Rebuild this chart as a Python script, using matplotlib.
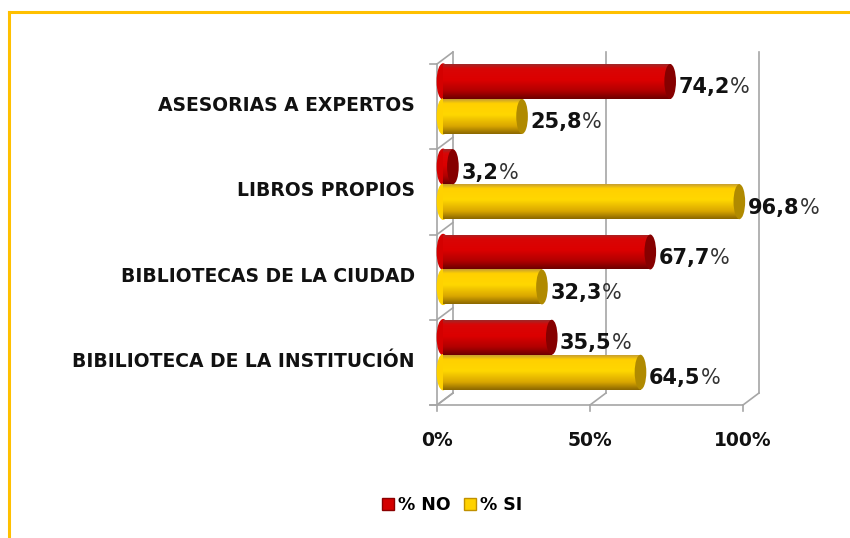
import matplotlib
matplotlib.use('Agg')
import matplotlib.pyplot as plt
import numpy as np
from matplotlib.patches import Rectangle, Ellipse, Patch
from matplotlib.lines import Line2D
from matplotlib.colors import LinearSegmentedColormap
from matplotlib.transforms import ScaledTranslation

# ---- data ----
categories = ['BIBILIOTECA DE LA INSTITUCIÓN', 'BIBLIOTECAS DE LA CIUDAD',
              'LIBROS PROPIOS', 'ASESORIAS A EXPERTOS']
no_values = [35.5, 67.7, 3.2, 74.2]
si_values = [64.5, 32.3, 96.8, 25.8]
series_names = ['% NO', '% SI']
x_ticks = [0, 50, 100]
x_tick_labels = ['0%', '50%', '100%']

# ---- style ----
RED_MAIN = '#D40000'
YEL_MAIN = '#FFD200'
cmap_red = LinearSegmentedColormap.from_list('r', [(0, '#6E0000'), (0.22, '#B00000'),
                                                   (0.55, '#DC0000'), (0.88, '#D80606'), (1, '#A02828')])
cmap_yel = LinearSegmentedColormap.from_list('y', [(0, '#8C6800'), (0.22, '#D9A600'),
                                                   (0.55, '#FFD700'), (0.88, '#FFD000'), (1, '#C9A030')])
CAP_RED = '#860000'
CAP_YEL = '#B08A00'
WALL = '#A6A6A6'
BX, BY = 5.2, 0.14          # depth offset of back wall (data units)
DX, DY = 2.0, 0.09          # depth offset of bars
BAR_H = 0.41
CAP_W = 3.8

fig = plt.figure(figsize=(8.5, 5.38), dpi=100)
fig.patch.set_facecolor('white')
ax = fig.add_axes([437/850, 1-405/538, 306/850, 341/538])
ax.set_xlim(0, 100)
ax.set_ylim(-0.5, 3.5)
for s in ax.spines.values():
    s.set_visible(False)
ax.set_facecolor('none')

ypos = np.arange(len(categories))

# walls / grid
def wl(xs, ys):
    ax.add_line(Line2D(xs, ys, color=WALL, lw=1.2, clip_on=False, zorder=1))

for xt in x_ticks:
    wl([xt + BX, xt + BX], [-0.5 + BY, 3.5 + BY])
    wl([xt, xt + BX], [-0.5, -0.5 + BY])
    wl([xt, xt], [-0.5, -0.57])
wl([-2.3, 100], [-0.5, -0.5])
wl([0, 0], [-0.5, 3.5])
for b in np.arange(-0.5, 3.6, 1.0):
    wl([-2.3, 0], [b, b])
    wl([0, BX], [b, b + BY])

grad = np.linspace(0, 1, 64).reshape(-1, 1)

def cyl(y, val, cmap, cap, mid):
    x0 = DX
    x1 = DX + val
    yb = y - BAR_H / 2
    ax.add_patch(Ellipse((x0, y), CAP_W, BAR_H, color=mid, zorder=3, clip_on=False))
    rect = Rectangle((x0, yb), val, BAR_H, facecolor='none', edgecolor='none')
    ax.add_patch(rect)
    im = ax.imshow(grad, cmap=cmap, extent=(x0, x1, yb, yb + BAR_H), origin='lower',
                   aspect='auto', zorder=4, interpolation='bilinear')
    im.set_clip_path(rect)
    ax.add_patch(Ellipse((x1, y), CAP_W, BAR_H, facecolor=cap, edgecolor='none',
                         zorder=5, clip_on=False))
    t = ax.text(x1 + CAP_W / 2 + 0.8, y - 0.07, f'{val:.1f}'.replace('.', ','),
                fontsize=15, fontweight='bold', color='#111111', va='center', ha='left',
                zorder=6, clip_on=False)
    ax.annotate('%', xy=(1, 0), xycoords=t, xytext=(0.3, 0), textcoords='offset points',
                fontsize=15, color='#333333', va='bottom', ha='left', zorder=6)

for i in range(len(categories)):
    yc = ypos[i] + DY
    cyl(yc + BAR_H / 2, no_values[i], cmap_red, CAP_RED, RED_MAIN)
    cyl(yc - BAR_H / 2, si_values[i], cmap_yel, CAP_YEL, YEL_MAIN)

ax.set_xlim(-0.0, 100)
ax.set_ylim(-0.5, 3.5)

ax.set_xticks(x_ticks, x_tick_labels)
ax.set_yticks(ypos, categories)
ax.tick_params(axis='x', length=0, pad=19, labelsize=13.5)
ax.tick_params(axis='y', length=0, pad=16, labelsize=13.5)
up = ScaledTranslation(0, 3/100, fig.dpi_scale_trans)
for lab in ax.get_xticklabels() + ax.get_yticklabels():
    lab.set_fontweight('bold')
    lab.set_color('#111111')
for lab in ax.get_yticklabels():
    lab.set_va('center_baseline')
    lab.set_transform(lab.get_transform() + up)

# border
fig.add_artist(Line2D([9/850, 1], [1-12/538, 1-12/538], color='#FFC000', lw=2.2,
                      transform=fig.transFigure))
fig.add_artist(Line2D([9/850, 9/850], [0, 1-12/538], color='#FFC000', lw=2.2,
                      transform=fig.transFigure))

handles = [Patch(facecolor=RED_MAIN, edgecolor='#8A0000'),
           Patch(facecolor=YEL_MAIN, edgecolor='#C09000')]
leg = fig.legend(handles, series_names, loc='center', bbox_to_anchor=(452/850, 1-505/538),
                 ncol=2, frameon=False, handlelength=0.7, handleheight=0.7,
                 handletextpad=0.2, columnspacing=0.8, prop={'size': 12.5, 'weight': 'bold'})

fig.savefig('out.png', dpi=100)
